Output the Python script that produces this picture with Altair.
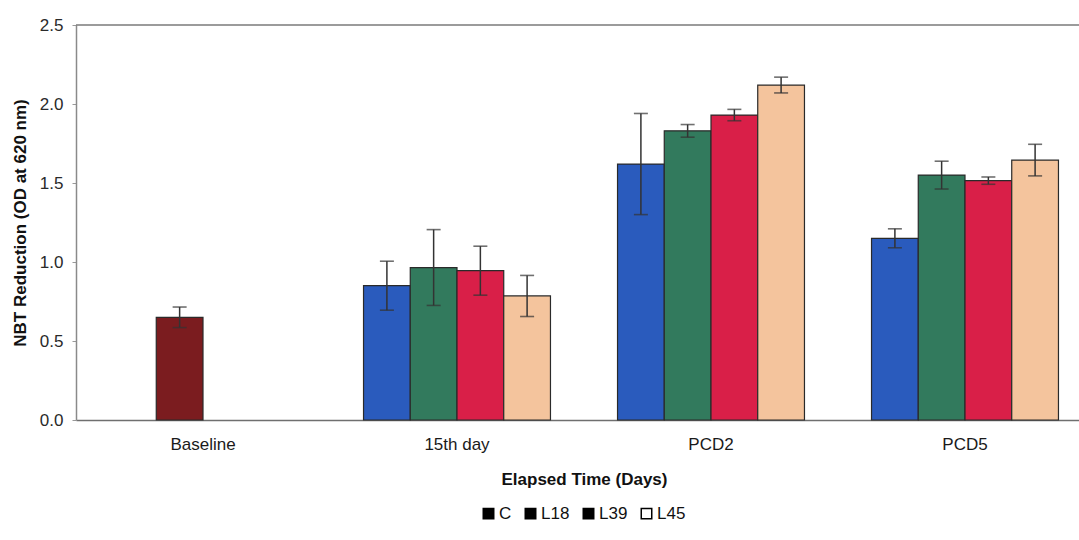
import altair as alt
import pandas as pd

# Categories
days = ["Baseline", "15th day", "PCD2", "PCD5"]
groups = ["C", "L18", "L39", "L45"]
later_days = ["15th day", "PCD2", "PCD5"]

# Baseline measurement (single pooled group)
baseline_value = 0.65
baseline_err = 0.065

# Mean NBT reduction per group on 15th day, PCD2, PCD5
c_vals = [0.85, 1.62, 1.15]
l18_vals = [0.965, 1.83, 1.55]
l39_vals = [0.945, 1.93, 1.515]
l45_vals = [0.785, 2.12, 1.645]

# Error bar half-widths
c_err = [0.155, 0.32, 0.06]
l18_err = [0.24, 0.04, 0.088]
l39_err = [0.155, 0.036, 0.023]
l45_err = [0.13, 0.05, 0.10]

# Y axis tick values
y_ticks = [0, 0.5, 1.0, 1.5, 2.0, 2.5]

# Fill colours
colors = {
    "Baseline": "#7b1c1f",
    "C": "#2a5bbd",
    "L18": "#327a5d",
    "L39": "#d91f48",
    "L45": "#f4c49d",
}

rows = [{"day": "Baseline", "slot": "L18", "grp": "Baseline",
         "value": baseline_value, "err": baseline_err}]
for g, vals, errs in [("C", c_vals, c_err), ("L18", l18_vals, l18_err),
                      ("L39", l39_vals, l39_err), ("L45", l45_vals, l45_err)]:
    for d, v, e in zip(later_days, vals, errs):
        rows.append({"day": d, "slot": g, "grp": g, "value": v, "err": e})
df = pd.DataFrame(rows)

FONT = "Liberation Sans"
W, H = 1003, 395

x_axis = alt.Axis(
    title="Elapsed Time (Days)", labelAngle=0, labelFontSize=17, labelColor="#1a1a1a",
    labelPadding=16, ticks=False, domainColor="#6f6f6f", domainWidth=1.5,
    titleFontSize=17, titleFontWeight="bold", titleColor="#111111", titlePadding=19,
)
x_scale = alt.Scale(domain=days, range=[0, 1016], paddingInner=0.264, paddingOuter=0.132)

y_axis = alt.Axis(
    title="NBT Reduction (OD at 620 nm)", values=y_ticks, format=".1f", grid=False,
    labelFontSize=17, labelColor="#2a2a2a", labelPadding=9, tickSize=4, tickColor="#999999",
    domainColor="#8a8a8a", domainWidth=1.5, titleFontSize=17, titleFontWeight="bold",
    titleColor="#111111", titlePadding=10,
)
y_scale = alt.Scale(domain=[0, 2.5], nice=False, zero=True)

x_enc = alt.X("day:N", sort=days, scale=x_scale, axis=x_axis)
xo_enc = alt.XOffset("slot:N", scale=alt.Scale(domain=groups, paddingInner=0, paddingOuter=0))

base = alt.Chart(df)

bars = base.mark_bar(stroke="#2a2a2a", strokeWidth=1.2).encode(
    x=x_enc,
    xOffset=xo_enc,
    y=alt.Y("value:Q", scale=y_scale, axis=y_axis),
    fill=alt.Fill("grp:N", scale=alt.Scale(domain=list(colors.keys()),
                                           range=list(colors.values())), legend=None),
)

err_data = base.transform_calculate(lo="datum.value - datum.err", hi="datum.value + datum.err")

whiskers = err_data.mark_rule(color="#333333", strokeWidth=1.5).encode(
    x=x_enc,
    xOffset=xo_enc,
    y=alt.Y("lo:Q", scale=y_scale, axis=y_axis),
    y2="hi:Q",
)
caps_hi = err_data.mark_tick(color="#333333", thickness=1.6, size=14, orient="horizontal").encode(
    x=x_enc,
    xOffset=xo_enc,
    y=alt.Y("hi:Q", scale=y_scale, axis=y_axis),
)
caps_lo = err_data.mark_tick(color="#333333", thickness=1.6, size=14, orient="horizontal").encode(
    x=x_enc,
    xOffset=xo_enc,
    y=alt.Y("lo:Q", scale=y_scale, axis=y_axis),
)

# Upper frame line of the plot area
frame_top = alt.Chart(pd.DataFrame({"k": [0]})).mark_rule(
    color="#7a7a7a", strokeWidth=1.5
).encode(y=alt.value(0))

# Legend: solid black keys for C, L18, L39 and an open key for L45
legend_keys = alt.Chart(pd.DataFrame({"key": groups})).transform_filter("false").mark_square(
    stroke="#000000", strokeWidth=1.5
).encode(
    fill=alt.Fill(
        "key:N",
        scale=alt.Scale(domain=groups, range=["#000000", "#000000", "#000000", "#ffffff"]),
        legend=alt.Legend(
            title=None, orient="none", legendX=404, legendY=480, direction="horizontal",
            symbolType="square", symbolSize=110, symbolOpacity=1, symbolStrokeColor="#000000",
            symbolStrokeWidth=1.5, labelFontSize=17, labelColor="#111111", labelOffset=2,
            columnPadding=10,
        ),
    )
)

chart = (
    alt.layer(bars, whiskers, caps_hi, caps_lo, frame_top, legend_keys)
    .resolve_scale(fill="independent")
    .resolve_legend(fill="independent")
    .properties(
        width=W, height=H,
        autosize=alt.AutoSizeParams(type="none"),
        padding={"left": 76, "top": 25, "right": 0, "bottom": 120},
        background="#ffffff",
    )
    .configure(font=FONT)
    .configure_view(stroke=None)
)

chart.save("out.html", embed_options={"renderer": "svg", "actions": False})
